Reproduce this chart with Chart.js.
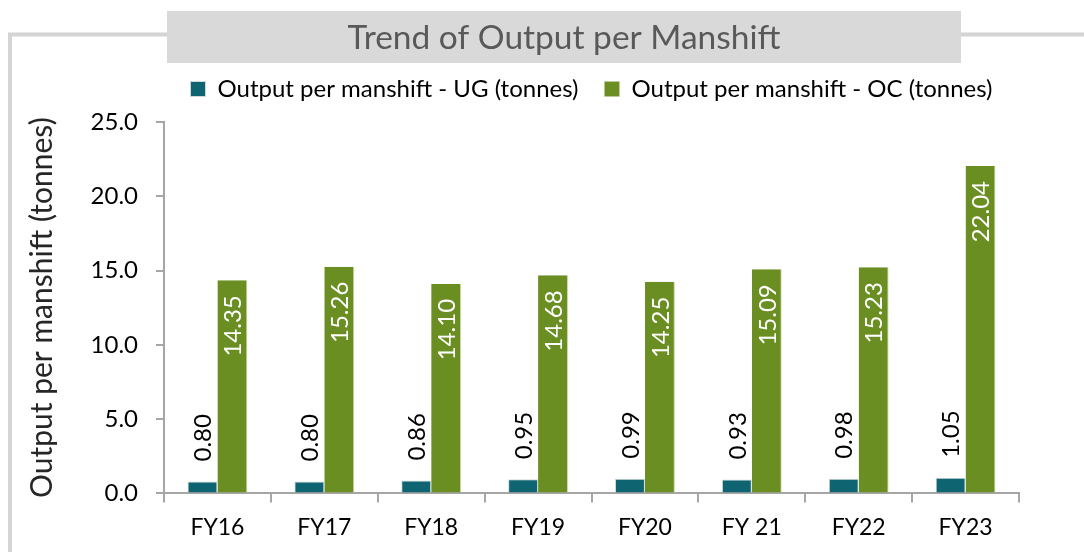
<!DOCTYPE html>
<html>
<head>
<meta charset="utf-8">
<script src="https://cdn.jsdelivr.net/npm/chart.js@4/dist/chart.umd.min.js"></script>
<style>
  html, body { margin: 0; padding: 0; background: #fff; }
  #wrap { width: 1084px; height: 552px; position: relative; }
</style>
</head>
<body>
<div id="wrap"><canvas id="opmChart"></canvas></div>
<script>
// chart data
const years = ['FY16', 'FY17', 'FY18', 'FY19', 'FY20', 'FY 21', 'FY22', 'FY23'];
const ugOutput = [0.80, 0.80, 0.86, 0.95, 0.99, 0.93, 0.98, 1.05];
const ocOutput = [14.35, 15.26, 14.10, 14.68, 14.25, 15.09, 15.23, 22.04];
const yTicks = [0, 5, 10, 15, 20, 25];

const FONT = 'Lato, "Open Sans", sans-serif';
const chartTitle = 'Trend of Output per Manshift';

// gray frame + title box behind the chart
const framePlugin = {
  id: 'frame',
  beforeDraw(chart) {
    const c = chart.ctx;
    c.save();
    c.strokeStyle = '#d4d4d4';
    c.lineWidth = 4;
    c.beginPath();
    c.moveTo(10, 552);
    c.lineTo(10, 34.5);
    c.lineTo(1084, 34.5);
    c.stroke();
    c.fillStyle = '#d9d9d9';
    c.fillRect(167, 11, 794, 52);
    c.fillStyle = '#595959';
    c.font = '33.5px ' + FONT;
    c.textAlign = 'center';
    c.textBaseline = 'middle';
    c.fillText(chartTitle, 564, 38);
    c.restore();
  }
};

// rotated value labels: UG above the bar, OC inside near the top
const valueLabels = {
  id: 'valueLabels',
  afterDatasetsDraw(chart) {
    const c = chart.ctx;
    c.save();
    c.font = '24px ' + FONT;
    c.textBaseline = 'middle';
    chart.data.datasets.forEach((ds, i) => {
      const meta = chart.getDatasetMeta(i);
      meta.data.forEach((bar, j) => {
        const txt = ds.data[j].toFixed(2);
        c.save();
        if (i === 0) {
          c.translate(bar.x, bar.y - 20);
          c.rotate(-Math.PI / 2);
          c.textAlign = 'left';
          c.fillStyle = '#000';
        } else {
          c.translate(bar.x, bar.y + 15);
          c.rotate(-Math.PI / 2);
          c.textAlign = 'right';
          c.fillStyle = '#fff';
        }
        c.fillText(txt, 0, 1);
        c.restore();
      });
    });
    c.restore();
  }
};

const ctx = document.getElementById('opmChart').getContext('2d');

new Chart(ctx, {
  type: 'bar',
  data: {
    labels: years,
    datasets: [
      {
        label: 'Output per manshift - UG (tonnes)',
        data: ugOutput,
        backgroundColor: '#0e6470',
        borderColor: '#d0d8d8',
        borderWidth: 1,
        categoryPercentage: 0.56,
        barPercentage: 1
      },
      {
        label: 'Output per manshift - OC (tonnes)',
        data: ocOutput,
        backgroundColor: '#6b8e23',
        borderColor: '#c8d8a8',
        borderWidth: { right: 1 },
        categoryPercentage: 0.56,
        barPercentage: 1
      }
    ]
  },
  options: {
    responsive: true,
    maintainAspectRatio: false,
    animation: false,
    layout: { padding: { top: 51, left: 24, right: 65, bottom: 0 } },
    plugins: {
      legend: {
        fullSize: false,
        weight: 3000,
        labels: {
          color: '#000',
          font: { family: FONT, size: 24 },
          boxWidth: 15,
          boxHeight: 15,
          padding: 26
        }
      },
      // empty subtitle used as a spacer between legend and plot
      subtitle: {
        display: true,
        text: ' ',
        fullSize: false,
        padding: 0,
        font: { size: 11, lineHeight: 1 }
      },
      tooltip: { enabled: false }
    },
    scales: {
      x: {
        grid: {
          offset: true,
          drawOnChartArea: false,
          color: '#a6a6a6',
          lineWidth: 2,
          tickLength: 9
        },
        border: { color: '#a6a6a6', width: 2 },
        ticks: {
          color: '#000',
          font: { family: FONT, size: 23 },
          padding: 11,
          maxRotation: 0
        }
      },
      y: {
        min: 0,
        max: 25,
        afterBuildTicks(scale) {
          scale.ticks = yTicks.map(v => ({ value: v }));
        },
        afterFit(scale) { scale.width = 140; },
        grid: {
          drawOnChartArea: false,
          color: '#a6a6a6',
          lineWidth: 2,
          tickLength: 8
        },
        border: { color: '#a6a6a6', width: 2 },
        ticks: {
          color: '#000',
          font: { family: FONT, size: 24 },
          padding: 18,
          callback: v => Number(v).toFixed(1)
        },
        title: {
          display: true,
          text: 'Output per manshift (tonnes)',
          color: '#262626',
          font: { family: FONT, size: 30 },
          padding: { top: 0, bottom: 0 }
        }
      }
    }
  },
  plugins: [framePlugin, valueLabels]
});
</script>
</body>
</html>
